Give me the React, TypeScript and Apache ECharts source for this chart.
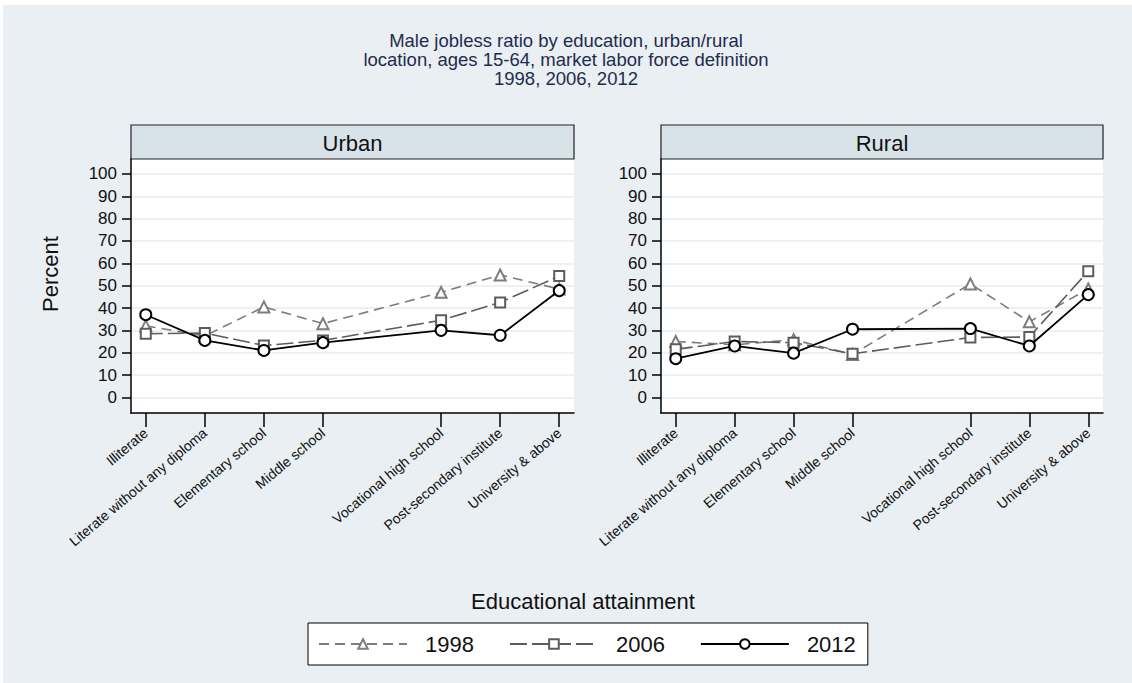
import React, { useEffect, useRef } from "react";
import * as echarts from "echarts";

const categories = [
  "Illiterate",
  "Literate without any diploma",
  "Elementary school",
  "Middle school",
  "Vocational high school",
  "Post-secondary institute",
  "University & above",
];
const positions = [0, 1, 2, 3, 5, 6, 7];
const years = ["1998", "2006", "2012"];
const panels = ["Urban", "Rural"];
const yTicks = [0, 10, 20, 30, 40, 50, 60, 70, 80, 90, 100];

const urban1998 = [32, 27.5, 40.5, 33, 47, 54.8, 48.5];
const urban2006 = [28.5, 28.8, 23.2, 25.5, 34.5, 42.5, 54.3];
const urban2012 = [37, 25.5, 21, 24.5, 30, 27.8, 47.8];
const rural1998 = [25, 23.5, 25.8, 19.2, 50.8, 33.8, 48.5];
const rural2006 = [21.5, 25, 24.5, 19.5, 26.8, 27, 56.5];
const rural2012 = [17.3, 23, 19.8, 30.5, 30.8, 23, 46];

const FONT = "Liberation Sans";

const seriesStyles = [
  { symbol: "emptyTriangle", size: 11, color: "#7d7d7d", dash: [10, 6], width: 1.6 },
  { symbol: "emptyRect", size: 10, color: "#5c5c5c", dash: [17, 5], width: 1.6 },
  { symbol: "emptyCircle", size: 11, color: "#000000", dash: "solid", width: 1.8 },
];

const grids = [
  { left: 131, top: 159, width: 443, height: 254 },
  { left: 661, top: 159, width: 442, height: 254 },
];

export default function App() {
  const ref = useRef<HTMLDivElement>(null);
  useEffect(() => {
    if (!ref.current) return;
    const chart = echarts.init(ref.current, undefined, { renderer: "svg" });
    const panelData = [
      [urban1998, urban2006, urban2012],
      [rural1998, rural2006, rural2012],
    ];
    const series: any[] = [];
    panelData.forEach((sets, g) => {
      sets.forEach((vals, k) => {
        const st = seriesStyles[k];
        series.push({
          type: "line",
          name: years[k],
          xAxisIndex: g,
          yAxisIndex: g,
          data: positions.map((x, i) => [x, vals[i]]),
          symbol: st.symbol,
          symbolSize: st.size,
          showSymbol: true,
          silent: true,
          z: 2 + k,
          lineStyle: { color: st.color, width: st.width, type: st.dash },
          itemStyle: { color: st.color, borderColor: st.color, borderWidth: 1.6 },
        });
      });
    });
    const xAxes = grids.map((_, g) => ({
      type: "value",
      gridIndex: g,
      min: -0.25,
      max: 7.25,
      minInterval: 1,
      maxInterval: 1,
      axisLine: { show: true, onZero: false, lineStyle: { color: "#000", width: 1.5 } },
      axisTick: {
        show: true,
        length: 14,
        customValues: positions,
        lineStyle: { color: "#000", width: 1.5 },
      },
      axisLabel: {
        show: true,
        customValues: positions,
        formatter: (v: number) => categories[positions.indexOf(v)] ?? "",
        rotate: 40,
        fontSize: 14,
        color: "#111",
        margin: 18,
        fontFamily: FONT,
      },
      splitLine: { show: false },
    }));
    const yAxes = grids.map((_, g) => ({
      type: "value",
      gridIndex: g,
      min: -7,
      max: 106.7,
      minInterval: 10,
      maxInterval: 10,
      axisLine: { show: true, onZero: false, lineStyle: { color: "#000", width: 1.5 } },
      axisTick: {
        show: true,
        length: 9,
        customValues: yTicks,
        lineStyle: { color: "#000", width: 1.5 },
      },
      axisLabel: {
        show: true,
        customValues: yTicks,
        fontSize: 17,
        color: "#111",
        margin: 14,
        fontFamily: FONT,
      },
      splitLine: { show: true, lineStyle: { color: "#e6edf0", width: 1.5 } },
    }));
    const graphics: any[] = [
      {
        type: "rect",
        z: -100,
        shape: { x: 3, y: 5, width: 1129, height: 678 },
        style: { fill: "#e9eff2" },
        silent: true,
      },
    ];
    grids.forEach((gr, g) => {
      graphics.push({
        type: "rect",
        shape: { x: gr.left, y: 125, width: gr.width, height: 34 },
        style: { fill: "#d8e3e9", stroke: "#222", lineWidth: 1.2 },
        silent: true,
      });
      graphics.push({
        type: "text",
        x: gr.left + gr.width / 2,
        y: 143,
        style: {
          text: panels[g],
          fill: "#111",
          font: `22px "${FONT}"`,
          align: "center",
          verticalAlign: "middle",
        },
        silent: true,
      });
    });
    graphics.push({
      type: "text",
      x: 50,
      y: 274,
      rotation: Math.PI / 2,
      style: {
        text: "Percent",
        fill: "#111",
        font: `22px "${FONT}"`,
        align: "center",
        verticalAlign: "middle",
      },
      silent: true,
    });
    graphics.push({
      type: "text",
      x: 583,
      y: 601,
      style: {
        text: "Educational attainment",
        fill: "#111",
        font: `22px "${FONT}"`,
        align: "center",
        verticalAlign: "middle",
      },
      silent: true,
    });
    chart.setOption({
      animation: false,
      backgroundColor: "#ffffff",
      textStyle: { fontFamily: FONT },
      title: {
        text:
          "Male jobless ratio by education, urban/rural\nlocation, ages 15-64, market labor force definition\n1998, 2006, 2012",
        left: "center",
        top: 31,
        padding: 0,
        textStyle: {
          fontSize: 18.5,
          lineHeight: 19,
          fontWeight: "normal",
          color: "#1f2c4e",
          fontFamily: FONT,
        },
      },
      legend: {
        data: years,
        left: 308,
        top: 623,
        orient: "horizontal",
        itemWidth: 88,
        itemHeight: 12,
        itemGap: 35,
        padding: [10, 12, 10, 10],
        backgroundColor: "#fff",
        borderColor: "#000",
        borderWidth: 1,
        borderRadius: 0,
        selectedMode: false,
        textStyle: { fontSize: 22, color: "#111", padding: [0, 0, 0, 13], fontFamily: FONT },
      },
      grid: grids.map((gr) => ({
        ...gr,
        show: true,
        backgroundColor: "#ffffff",
        borderWidth: 0,
        containLabel: false,
        outerBoundsMode: "none",
      })),
      xAxis: xAxes,
      yAxis: yAxes,
      series,
      graphic: graphics,
    } as any);
    return () => chart.dispose();
  }, []);
  return (
    <div
      ref={ref}
      style={{ position: "fixed", left: 0, top: 0, width: 1132, height: 683 }}
    />
  );
}
